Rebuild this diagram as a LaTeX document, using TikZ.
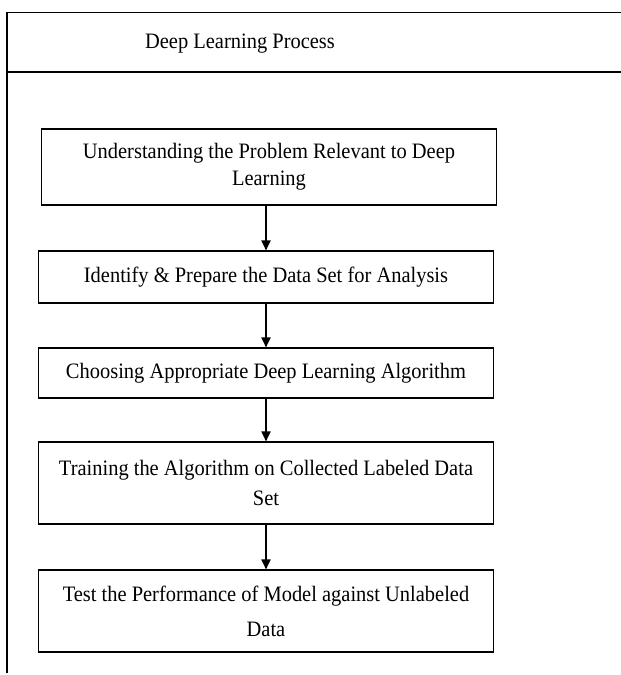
\documentclass[tikz,border=0pt]{standalone}
\usepackage{fontspec}
\setmainfont[FakeStretch=0.93]{Liberation Serif}
\usetikzlibrary{arrows.meta}

\tikzset{
    stepbox/.style={draw, line width=1.1pt, minimum width=455pt, align=center,
        inner sep=0pt, font=\fontsize{22}{27}\selectfont},
    flow/.style={-{Triangle[length=10pt,width=9pt]}, line width=1.8pt}
}

\begin{document}
\begin{tikzpicture}[x=1pt, y=-1pt]
    \useasboundingbox (0,0) rectangle (621,675);
    % frame with header row
    \draw[line width=1.5pt] (621,12.5) -- (7,12.5) -- (7,673);
    \draw[line width=1.5pt] (7,72) -- (621,72);
    \node[font=\fontsize{22}{27}\selectfont] (title) at (240,44) {Deep Learning Process};

    % process steps
    \node[stepbox, minimum height=76pt] (understand) at (269,167)
        {Understanding the Problem Relevant to Deep\\Learning};
    \node[stepbox, minimum height=52pt] (prepare) at (266,277)
        {Identify \& Prepare the Data Set for Analysis};
    \node[stepbox, minimum height=50pt] (choose) at (266,373)
        {Choosing Appropriate Deep Learning Algorithm};
    \node[stepbox, minimum height=82pt] (train) at (266,483)
        {Training the Algorithm on Collected Labeled Data\\[3pt]Set};
    \node[stepbox, minimum height=82pt] (test) at (266,611)
        {Test the Performance of Model against Unlabeled\\[8pt]Data};

    \draw[flow] (understand.south -| prepare) -- (prepare);
    \draw[flow] (prepare) -- (choose);
    \draw[flow] (choose) -- (train);
    \draw[flow] (train) -- (test);
\end{tikzpicture}
\end{document}
